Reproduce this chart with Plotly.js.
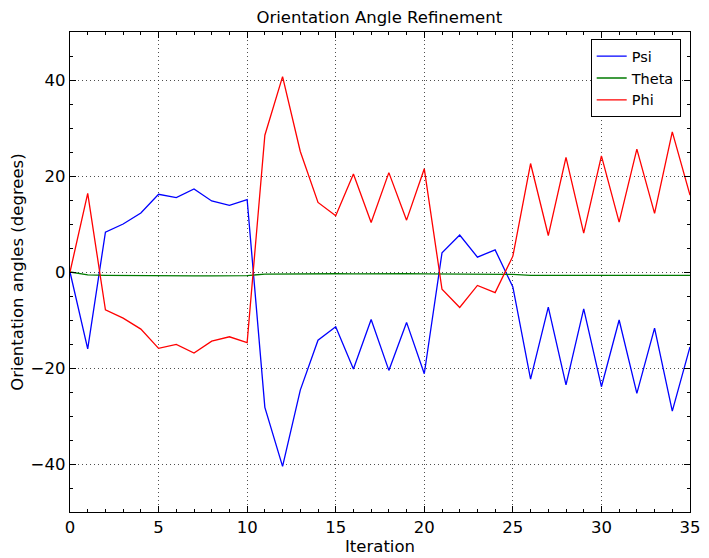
<!DOCTYPE html>
<html>
<head>
<meta charset="utf-8">
<script src="https://cdn.plot.ly/plotly-3.0.1.min.js"></script>
<style>html,body{margin:0;padding:0;background:#fff;}#chart{width:709px;height:558px;}</style>
</head>
<body>
<div id="chart"></div>
<script>
const iterations = [0,1,2,3,4,5,6,7,8,9,10,11,12,13,14,15,16,17,18,19,20,21,22,23,24,25,26,27,28,29,30,31,32,33,34,35];
const psi = [0, -16.0, 8.3, 10.0, 12.3, 16.2, 15.5, 17.3, 14.8, 13.9, 15.1, -28.2, -40.5, -24.6, -14.2, -11.4, -20.2, -9.9, -20.5, -10.5, -21.2, 4.0, 7.7, 3.1, 4.6, -3.1, -22.3, -7.3, -23.5, -7.7, -23.9, -10.0, -25.3, -11.7, -29.0, -15.6];
const theta = [0, -0.6, -0.7, -0.75, -0.8, -0.85, -0.8, -0.8, -0.8, -0.8, -0.75, -0.45, -0.4, -0.4, -0.4, -0.35, -0.4, -0.35, -0.4, -0.35, -0.4, -0.4, -0.45, -0.45, -0.45, -0.5, -0.7, -0.7, -0.7, -0.7, -0.7, -0.7, -0.7, -0.65, -0.7, -0.7];
const phi = [0, 16.4, -7.9, -9.6, -11.9, -15.9, -15.1, -16.9, -14.4, -13.5, -14.7, 28.5, 40.7, 25.1, 14.5, 11.7, 20.4, 10.3, 20.7, 10.8, 21.5, -3.6, -7.4, -2.8, -4.3, 3.3, 22.6, 7.6, 23.9, 8.1, 24.2, 10.4, 25.6, 12.2, 29.2, 16.0];
const seriesNames = ['Psi', 'Theta', 'Phi'];

const font = 'DejaVu Sans, sans-serif';
const traces = [
  {x: iterations, y: psi, name: seriesNames[0], mode: 'lines', line: {color: '#0000ff', width: 1.3}},
  {x: iterations, y: theta, name: seriesNames[1], mode: 'lines', line: {color: '#007a00', width: 1.4}},
  {x: iterations, y: phi, name: seriesNames[2], mode: 'lines', line: {color: '#ff0000', width: 1.3}}
];
const axisCommon = {
  showline: true, linecolor: 'black', linewidth: 1.3, mirror: 'allticks',
  ticks: 'inside', ticklen: 6, tickwidth: 1, tickcolor: 'black',
  showgrid: true, gridcolor: '#222', griddash: '1px,3px', gridwidth: 0.8,
  zeroline: false, tickfont: {family: font, size: 16.5, color: 'black'}
};
const layout = {
  width: 709, height: 558,
  margin: {l: 70, r: 19, t: 32, b: 46},
  paper_bgcolor: 'white', plot_bgcolor: 'white',
  title: {text: 'Orientation Angle Refinement', font: {family: font, size: 16.5, color: 'black'}, x: 0.535, xanchor: 'center', y: 0.97, yanchor: 'middle'},
  xaxis: Object.assign({}, axisCommon, {
    range: [0, 35], dtick: 5, tick0: 0,
    minor: {dtick: 1, ticks: 'inside', ticklen: 3, tickcolor: 'black', showgrid: false},
    title: {text: 'Iteration', font: {family: font, size: 16.5, color: 'black'}, standoff: 0}
  }),
  yaxis: Object.assign({}, axisCommon, {
    range: [-50, 50], dtick: 20, tick0: 0,
    minor: {dtick: 5, ticks: 'inside', ticklen: 3, tickcolor: 'black', showgrid: false},
    title: {text: 'Orientation angles (degrees)', font: {family: font, size: 16.5, color: 'black'}, standoff: 2}
  }),
  legend: {
    x: 0.985, xanchor: 'right', y: 0.985, yanchor: 'top',
    bordercolor: 'black', borderwidth: 1, bgcolor: 'white',
    font: {family: font, size: 14.5, color: 'black'},
    tracegroupgap: 0, itemwidth: 30
  },
  showlegend: true
};
Plotly.newPlot('chart', traces, layout, {displayModeBar: false, staticPlot: true});
</script>
</body>
</html>
